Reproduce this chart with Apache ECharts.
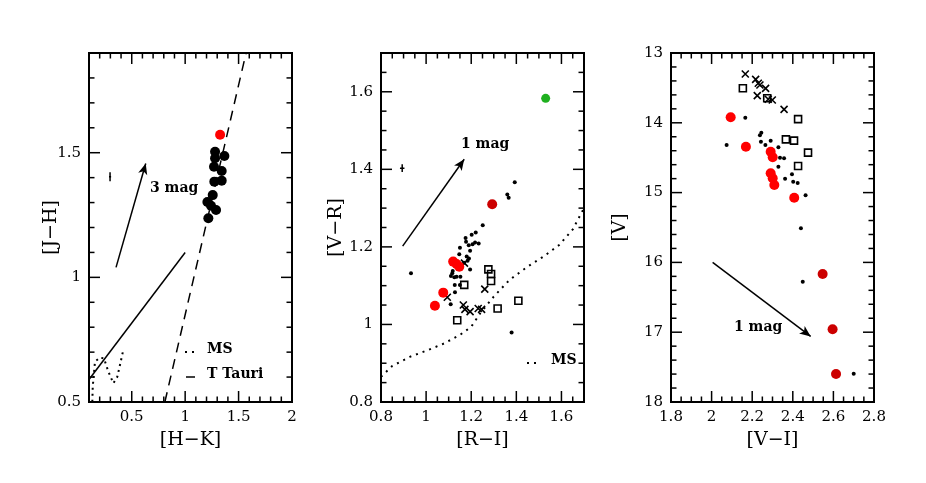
<!DOCTYPE html>
<html>
<head>
<meta charset="utf-8">
<script src="https://cdn.jsdelivr.net/npm/echarts@6/dist/echarts.min.js"></script>
<style>
html, body { margin: 0; padding: 0; background: #fff; }
#chart { width: 926px; height: 483px; background: #fff; }
</style>
</head>
<body>
<div id="chart"></div>
<script>
// ---- panel 1 : [J-H] vs [H-K]
var hkBlack = [1.28, 1.367, 1.28, 1.27, 1.342, 1.342, 1.273, 1.258, 1.208, 1.242, 1.289, 1.217];
var jhBlack = [1.504, 1.487, 1.478, 1.444, 1.427, 1.388, 1.384, 1.33, 1.302, 1.287, 1.27, 1.237];
var hkRed = [1.327];
var jhRed = [1.572];
var hkMS = [0.131, 0.135, 0.156, 0.203, 0.240, 0.281, 0.328, 0.365, 0.397, 0.421];
var jhMS = [0.501, 0.561, 0.662, 0.678, 0.675, 0.622, 0.575, 0.601, 0.662, 0.709];
var hkTTauri = [0.81, 1.57];
var jhTTauri = [0.5, 1.9];
var hkLine = [0.1, 1.0];
var jhLine = [0.59, 1.1];
var hkArrow = [0.353, 0.631];
var jhArrow = [1.04, 1.457];
var hkErr = [0.297, 1.404, 0.01, 0.018];   // x, y, dx, dy
var hkTicks = [0.5, 1, 1.5, 2];
var jhTicks = [0.5, 1, 1.5];

// ---- panel 2 : [V-R] vs [R-I]
var riDots = [0.933, 1.393, 1.36, 1.366, 1.251, 1.22, 1.202, 1.175, 1.177, 1.206, 1.217, 1.233, 1.189, 1.15, 1.195, 1.147, 1.18, 1.19, 1.184, 1.168, 1.195, 1.118, 1.11, 1.125, 1.152, 1.127, 1.128, 1.109, 1.379, 1.116, 1.135, 1.15];
var vrDots = [1.132, 1.367, 1.335, 1.327, 1.256, 1.237, 1.231, 1.223, 1.213, 1.207, 1.211, 1.209, 1.204, 1.198, 1.19, 1.181, 1.175, 1.17, 1.164, 1.159, 1.142, 1.138, 1.125, 1.122, 1.123, 1.102, 1.083, 1.052, 0.979, 1.132, 1.123, 1.102];
var riRed = [1.12, 1.135, 1.147, 1.076, 1.039];
var vrRed = [1.162, 1.156, 1.149, 1.082, 1.048];
var riDark = [1.293];
var vrDark = [1.31];
var riGreen = [1.53];
var vrGreen = [1.583];
var riSq = [1.276, 1.288, 1.288, 1.169, 1.409, 1.317, 1.138];
var vrSq = [1.142, 1.13, 1.112, 1.102, 1.061, 1.041, 1.011];
var riX = [1.094, 1.165, 1.172, 1.195, 1.231, 1.246, 1.26, 1.17];
var vrX = [1.07, 1.05, 1.039, 1.033, 1.041, 1.039, 1.091, 1.158];
var riMS = [0.80, 0.85, 0.93, 1.00, 1.08, 1.15, 1.20, 1.24, 1.30, 1.37, 1.45, 1.52, 1.59, 1.65, 1.70];
var vrMS = [0.865, 0.893, 0.917, 0.932, 0.951, 0.973, 0.994, 1.029, 1.072, 1.115, 1.149, 1.175, 1.205, 1.245, 1.30];
var riArrow = [0.896, 1.169];
var vrArrow = [1.202, 1.426];
var riErr = [0.894, 1.403, 0.01, 0.01];
var riTicks = [0.8, 1, 1.2, 1.4, 1.6];
var vrTicks = [0.8, 1, 1.2, 1.4, 1.6];

// ---- panel 3 : [V] vs [V-I]
var viDots = [2.166, 2.074, 2.245, 2.238, 2.243, 2.265, 2.291, 2.329, 2.337, 2.357, 2.329, 2.362, 2.396, 2.402, 2.424, 2.463, 2.44, 2.449, 2.7];
var vDots = [13.927, 14.318, 14.142, 14.18, 14.27, 14.318, 14.256, 14.351, 14.5, 14.509, 14.628, 14.8, 14.738, 14.844, 14.862, 15.039, 15.512, 16.276, 17.594];
var viX = [2.166, 2.217, 2.23, 2.238, 2.266, 2.225, 2.279, 2.299, 2.357];
var vX = [13.301, 13.377, 13.434, 13.458, 13.506, 13.611, 13.663, 13.673, 13.807];
var viSq = [2.154, 2.274, 2.426, 2.366, 2.406, 2.475, 2.426];
var vSq = [13.506, 13.649, 13.948, 14.237, 14.256, 14.428, 14.619];
var viRed = [2.094, 2.169, 2.291, 2.301, 2.291, 2.301, 2.309, 2.407];
var vRed = [13.921, 14.342, 14.414, 14.494, 14.724, 14.795, 14.891, 15.073];
var viDark = [2.547, 2.596, 2.613];
var vDark = [16.166, 16.959, 17.599];
var viArrow = [2.005, 2.488];
var vArrow = [16.0, 17.06];
var viTicks = [1.8, 2, 2.2, 2.4, 2.6, 2.8];
var vTicks = [13, 14, 15, 16, 17, 18];

var FONT = 'DejaVu Serif';

function pts(xs, ys) {
  return xs.map(function (x, i) { return [x, ys[i]]; });
}
function near(list, v) {
  return list.some(function (t) { return Math.abs(t - v) < 1e-6; });
}
function steps(a, b, s) {
  var out = [];
  for (var k = 0; a + k * s <= b + 1e-9; k++) out.push(Math.round((a + k * s) * 1000) / 1000);
  return out;
}

var xAxes = [], yAxes = [];
function ax(list, grid, min, max, step, labels, name, gap, inv) {
  list.push({
    type: 'value', gridIndex: grid, min: min, max: max, interval: step, inverse: !!inv,
    name: name, nameLocation: 'middle', nameGap: gap, nameMoveOverlap: false,
    nameTextStyle: { fontFamily: FONT, fontSize: 19, color: '#000' },
    axisLine: { show: true, onZero: false, lineStyle: { color: '#000', width: 2 } },
    axisTick: { show: false },
    axisLabel: {
      show: true, color: '#000', fontFamily: FONT, fontSize: 15, margin: 8,
      formatter: function (v) { return near(labels, v) ? String(+v.toFixed(3)) : ''; }
    },
    splitLine: { show: false }
  });
}
ax(xAxes, 0, 0.1, 2, 0.1, hkTicks, '[H\u2212K]', 29);
ax(yAxes, 0, 0.5, 1.9, 0.5, jhTicks, '[J\u2212H]', 28);
ax(xAxes, 1, 0.8, 1.7, 0.2, riTicks, '[R\u2212I]', 29);
ax(yAxes, 1, 0.8, 1.7, 0.2, vrTicks, '[V\u2212R]', 35);
ax(xAxes, 2, 1.8, 2.8, 0.2, viTicks, '[V\u2212I]', 29);
ax(yAxes, 2, 13, 18, 1, vTicks, '[V]', 41, true);

function scat(g, data, size, color) {
  return {
    type: 'scatter', xAxisIndex: g, yAxisIndex: g, data: data,
    symbolSize: size, itemStyle: { color: color, opacity: 1 }, silent: true, z: 3
  };
}
function openSym(g, data, symbol, size) {
  return {
    type: 'scatter', xAxisIndex: g, yAxisIndex: g, data: data, symbol: symbol,
    symbolSize: size, silent: true, z: 3,
    itemStyle: { color: 'rgba(0,0,0,0)', borderColor: '#000', borderWidth: 1.6, opacity: 1 }
  };
}
function line(g, data, style) {
  return {
    type: 'line', xAxisIndex: g, yAxisIndex: g, data: data, showSymbol: false,
    symbol: 'none', silent: true, lineStyle: Object.assign({ color: '#000', width: 1.5 }, style), z: 2
  };
}
function arrow(g, xs, ys) {
  return {
    type: 'scatter', xAxisIndex: g, yAxisIndex: g, data: [], silent: true,
    markLine: {
      silent: true, symbol: ['none', 'arrow'], symbolSize: [7, 11],
      label: { show: false },
      lineStyle: { color: '#000', width: 1.5, type: 'solid' },
      data: [[{ coord: [xs[0], ys[0]] }, { coord: [xs[1], ys[1]] }]]
    }
  };
}
function errBar(g, e) {
  return line(g, [[e[0], e[1] - e[3]], [e[0], e[1] + e[3]], '-', [e[0] - e[2], e[1]], [e[0] + e[2], e[1]]], { width: 1.5 });
}
var XSYM = 'path://M0,0L10,10M10,0L0,10';

var series = [
  // panel 1
  line(0, pts(hkMS, jhMS), { type: [2, 4], width: 2 }),
  line(0, pts(hkTTauri, jhTTauri), { type: [10, 7] }),
  line(0, pts(hkLine, jhLine), {}),
  arrow(0, hkArrow, jhArrow),
  errBar(0, hkErr),
  scat(0, pts(hkBlack, jhBlack), 10, '#000'),
  scat(0, pts(hkRed, jhRed), 10, '#ff0000'),
  // panel 2
  line(1, pts(riMS, vrMS), { type: [2, 5], width: 2 }),
  arrow(1, riArrow, vrArrow),
  errBar(1, riErr),
  scat(1, pts(riDots, vrDots), 4, '#000'),
  openSym(1, pts(riSq, vrSq), 'rect', 7),
  openSym(1, pts(riX, vrX), XSYM, 7),
  scat(1, pts(riRed, vrRed), 10, '#ff0000'),
  scat(1, pts(riDark, vrDark), 10, '#cc0000'),
  scat(1, pts(riGreen, vrGreen), 9, '#1fb01f'),
  // panel 3
  arrow(2, viArrow, vArrow),
  scat(2, pts(viDots, vDots), 4, '#000'),
  openSym(2, pts(viSq, vSq), 'rect', 7),
  openSym(2, pts(viX, vX), XSYM, 7),
  scat(2, pts(viRed, vRed), 10, '#ff0000'),
  scat(2, pts(viDark, vDark), 10, '#cc0000')
];

var txt = { fontFamily: FONT, fontSize: 14, fontWeight: 'bold', fill: '#000' };
function label(x, y, s) {
  return { type: 'text', left: x, top: y - 9, style: Object.assign({ text: s }, txt), silent: true };
}
var frameStyle = { show: true, borderColor: '#000', borderWidth: 2, backgroundColor: 'transparent', top: 53, width: 203, height: 349 };

var chart = echarts.init(document.getElementById('chart'));
chart.setOption({
  grid: [
    Object.assign({ left: 89 }, frameStyle),
    Object.assign({ left: 381 }, frameStyle),
    Object.assign({ left: 671 }, frameStyle)
  ],
  xAxis: xAxes,
  yAxis: yAxes,
  series: series
});

// inward ticks on all four sides, positioned through each panel's scales
var tickLines = [];
function addTicks(g, xr, yr, xMaj, xAll, yMaj, yAll) {
  var st = { stroke: '#000', lineWidth: 1.5 };
  function seg(x1, y1, x2, y2) {
    tickLines.push({ type: 'line', silent: true, z: 10, shape: { x1: x1, y1: y1, x2: x2, y2: y2 }, style: st });
  }
  xAll.forEach(function (v) {
    var len = near(xMaj, v) ? 11 : 5.5;
    var a = chart.convertToPixel({ gridIndex: g }, [v, yr[0]]);
    var b = chart.convertToPixel({ gridIndex: g }, [v, yr[1]]);
    var s = b[1] > a[1] ? 1 : -1;
    seg(a[0], a[1], a[0], a[1] + s * len);
    seg(b[0], b[1], b[0], b[1] - s * len);
  });
  yAll.forEach(function (v) {
    var len = near(yMaj, v) ? 11 : 5.5;
    var a = chart.convertToPixel({ gridIndex: g }, [xr[0], v]);
    var b = chart.convertToPixel({ gridIndex: g }, [xr[1], v]);
    seg(a[0], a[1], a[0] + len, a[1]);
    seg(b[0], b[1], b[0] - len, b[1]);
  });
}
addTicks(0, [0.1, 2], [0.5, 1.9], hkTicks, steps(0.2, 1.9, 0.1), jhTicks, steps(0.6, 1.8, 0.1));
addTicks(1, [0.8, 1.7], [0.8, 1.7], riTicks, steps(0.85, 1.65, 0.05), vrTicks, steps(0.85, 1.65, 0.05));
addTicks(2, [1.8, 2.8], [13, 18], viTicks, steps(1.85, 2.75, 0.05), vTicks, steps(13.2, 17.8, 0.2));

chart.setOption({
  graphic: [
    label(150, 190, '3 mag'),
    label(461, 146, '1 mag'),
    label(734, 329, '1 mag'),
    // panel 1 key
    { type: 'line', shape: { x1: 185, y1: 352, x2: 196, y2: 352 }, style: { stroke: '#000', lineWidth: 2, lineDash: [2, 5] }, silent: true },
    label(207, 351, 'MS'),
    { type: 'line', shape: { x1: 186, y1: 377, x2: 195, y2: 377 }, style: { stroke: '#000', lineWidth: 1.5 }, silent: true },
    label(207, 376, 'T Tauri'),
    // panel 2 key
    { type: 'line', shape: { x1: 527, y1: 363, x2: 539, y2: 363 }, style: { stroke: '#000', lineWidth: 2, lineDash: [2, 5] }, silent: true },
    label(551, 362, 'MS')
  ].concat(tickLines)
});
</script>
</body>
</html>
